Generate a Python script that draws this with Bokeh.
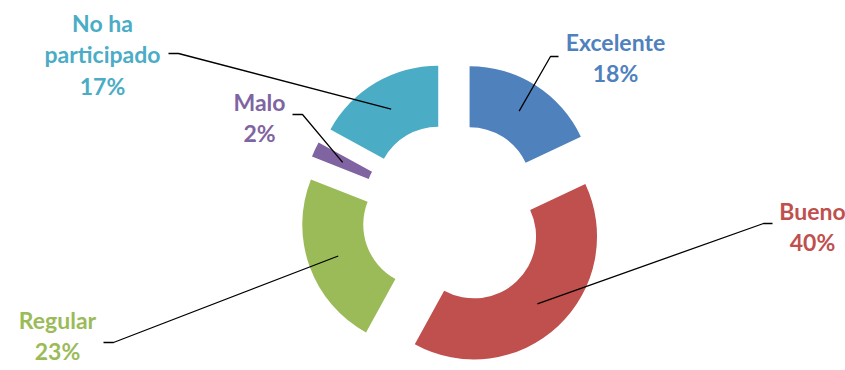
import math
from bokeh.plotting import figure
from bokeh.models import Range1d, ColumnDataSource
from bokeh.core.properties import value
from bokeh.embed import file_html
from bokeh.resources import INLINE

# ---- data ----
categories = ["Excelente", "Bueno", "Regular", "Malo", "No ha\nparticipado"]
percents = [18, 40, 23, 2, 17]
colors = ["#4F81BD", "#C0504D", "#9BBB59", "#8064A2", "#4BACC6"]

# ---- layout (pixels; centre of donut at screen (453,214)) ----
CX, CY = 453, 214
W, H = 845, 370
R_OUT, R_IN, EXPLODE = 123, 62, 30
label_pos = [(615, 57), (812, 226), (57, 335), (259, 117), (102, 54)]
elbow_a = [(558, 56), (772, 223), (103, 342), (292, 114), (168, 53)]
elbow_b = [(550, 56), (763, 223), (113, 342), (302, 114), (178, 53)]

def to_data(p):
    return (p[0] - CX, CY - p[1])

total = sum(percents)
xs, ys, starts, ends, lx, ly = [], [], [], [], [], []
cum = 0.0
for v in percents:
    t1 = cum / total * 360.0
    t2 = (cum + v) / total * 360.0
    tm = math.radians((t1 + t2) / 2)
    ox, oy = EXPLODE * math.sin(tm), EXPLODE * math.cos(tm)
    xs.append(ox); ys.append(oy)
    starts.append(math.radians(90 - t1)); ends.append(math.radians(90 - t2))
    rm = (R_IN + R_OUT) / 2
    lx.append(ox + rm * math.sin(tm)); ly.append(oy + rm * math.cos(tm))
    cum += v

ox0 = CX
oy0 = CY
p = figure(width=W, height=H, output_backend="svg", toolbar_location=None,
           x_range=Range1d(-ox0, W - ox0), y_range=Range1d(oy0 - H, oy0),
           min_border=0)
p.axis.visible = False
p.grid.visible = False
p.outline_line_color = None
p.background_fill_color = "white"

src = ColumnDataSource(dict(x=xs, y=ys, s=starts, e=ends, c=colors))
p.annular_wedge(x="x", y="y", inner_radius=R_IN, outer_radius=R_OUT,
                start_angle="s", end_angle="e", direction="clock",
                fill_color="c", line_color=None, source=src)

# leader lines
for i in range(len(categories)):
    a = to_data(elbow_a[i]); b = to_data(elbow_b[i])
    p.line([a[0], b[0], lx[i]], [a[1], b[1], ly[i]], line_color="black", line_width=1.3)

labels = [f"{c}\n{v}%" for c, v in zip(categories, percents)]
tx = [to_data(q)[0] for q in label_pos]
ty = [to_data(q)[1] for q in label_pos]
tsrc = ColumnDataSource(dict(x=tx, y=ty, t=labels, c=colors))
p.text(x="x", y="y", text="t", text_color="c", source=tsrc,
       text_font=value("Lato"), text_font_style="bold", text_font_size="23px",
       text_align="center", text_baseline="middle", text_line_height=1.13)

open("out.html", "w").write(file_html(p, INLINE))
